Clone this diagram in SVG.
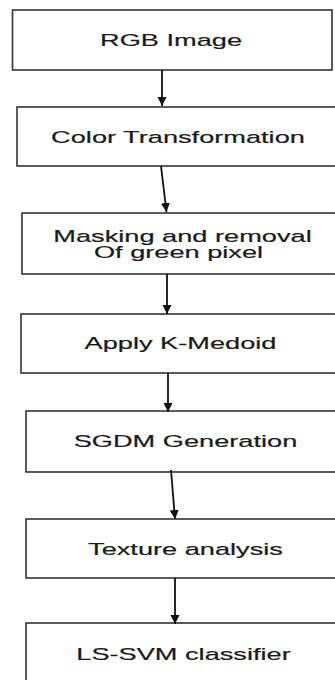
<svg xmlns="http://www.w3.org/2000/svg" width="335" height="680" viewBox="0 0 335 680">
  <style>
    .box { fill: #ffffff; stroke: #333333; stroke-width: 1.6; }
    .lbl { font-family: "Liberation Sans", Arial, sans-serif; font-size: 16px; fill: #1a1a1a; stroke: #1a1a1a; stroke-width: 0.18; text-anchor: middle; }
    .link { stroke: #111111; stroke-width: 1.8; fill: none; }
  </style>
  <defs>
    <marker id="arrow" markerUnits="userSpaceOnUse" markerWidth="10" markerHeight="10" viewBox="0 0 10 10" refX="9" refY="5" orient="auto">
      <path d="M0,0.5 L9,5 L0,9.5 Z" fill="#111111"/>
    </marker>
  </defs>
  <rect width="335" height="680" fill="#ffffff"/>

  <!-- labels are set in a wide face: glyphs stretched 1.7x horizontally -->
  <g id="rgb-image">
    <rect class="box" x="12.5" y="10" width="319.5" height="60"/>
    <text class="lbl" transform="translate(171,45.5) scale(1.7,1)">RGB Image</text>
  </g>
  <g id="color-transformation">
    <rect class="box" x="17" y="107" width="330" height="59"/>
    <text class="lbl" transform="translate(178,142.7) scale(1.7,1)">Color Transformation</text>
  </g>
  <g id="masking">
    <rect class="box" x="22" y="213" width="330" height="61"/>
    <text class="lbl" transform="translate(182.5,241.7) scale(1.7,1)">Masking and removal</text>
    <text class="lbl" transform="translate(178.5,258.3) scale(1.7,1)">Of green pixel</text>
  </g>
  <g id="k-medoid">
    <rect class="box" x="21" y="314" width="330" height="59"/>
    <text class="lbl" transform="translate(180.5,349.3) scale(1.7,1)">Apply K-Medoid</text>
  </g>
  <g id="sgdm">
    <rect class="box" x="26" y="411" width="330" height="61"/>
    <text class="lbl" transform="translate(185.5,446.7) scale(1.7,1)">SGDM Generation</text>
  </g>
  <g id="texture">
    <rect class="box" x="26" y="519" width="330" height="59"/>
    <text class="lbl" transform="translate(185.5,555) scale(1.7,1)">Texture analysis</text>
  </g>
  <g id="ls-svm">
    <rect class="box" x="26" y="623" width="330" height="80"/>
    <text class="lbl" transform="translate(183.5,660) scale(1.7,1)">LS-SVM classifier</text>
  </g>

  <g id="connectors">
    <line class="link" x1="162" y1="70" x2="162" y2="106" marker-end="url(#arrow)"/>
    <line class="link" x1="161" y1="166" x2="166.5" y2="212" marker-end="url(#arrow)"/>
    <line class="link" x1="167" y1="274" x2="167" y2="314" marker-end="url(#arrow)"/>
    <line class="link" x1="168" y1="373" x2="168" y2="412" marker-end="url(#arrow)"/>
    <line class="link" x1="171" y1="470" x2="175" y2="519" marker-end="url(#arrow)"/>
    <line class="link" x1="175" y1="578" x2="175" y2="624" marker-end="url(#arrow)"/>
  </g>
</svg>
